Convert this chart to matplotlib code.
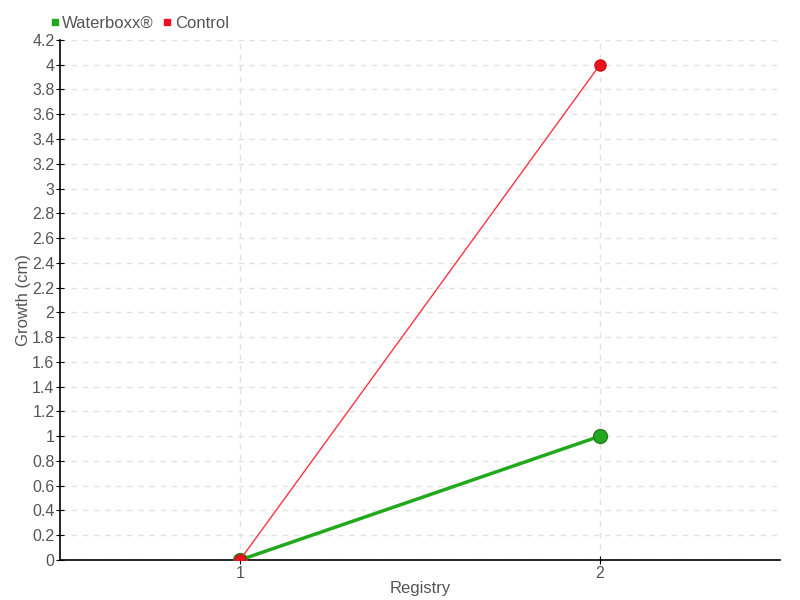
import matplotlib
matplotlib.use("Agg")
import matplotlib.pyplot as plt

REGISTRY = [1, 2]
WATERBOXX = [0, 1]
CONTROL = [0, 4]
YTICKS = [round(0.2 * i, 1) for i in range(22)]

TXT = "#555555"
plt.rcParams["font.family"] = ["Liberation Sans", "DejaVu Sans"]

fig = plt.figure(figsize=(8, 6), dpi=100)
ax = fig.add_axes([0.075, 0.0667, 0.9, 0.8667])

ax.plot(REGISTRY, WATERBOXX, color="#22a81c", lw=2.5, marker="o", ms=10,
        mfc="#22a81c", mec="#2a7a22", label="Waterboxx®", zorder=3)
ax.plot(REGISTRY, CONTROL, color="#ff3344", lw=1, marker="o", ms=8,
        mfc="#ee1122", mec="#cc1111", label="Control", zorder=4)

ax.set_xlim(0.5, 2.5)
ax.set_ylim(0, 4.2)
ax.set_xticks(REGISTRY)
ax.set_yticks(YTICKS)
ax.set_yticklabels([f"{v:g}" for v in YTICKS])
ax.grid(True, color="#e2e2e2", ls=(0, (4, 4)), lw=1)
ax.set_axisbelow(True)
for s in ("top", "right"):
    ax.spines[s].set_visible(False)
ax.spines["left"].set_linewidth(1.2)
ax.spines["bottom"].set_linewidth(1.2)
ax.tick_params(direction="inout", length=6, pad=1, labelsize=11.5, colors=TXT)
ax.tick_params(axis="both", color="black")
ax.set_xlabel("Registry", color=TXT, fontsize=12, labelpad=0)
ax.set_ylabel("Growth (cm)", color=TXT, fontsize=12, labelpad=1)

ax.legend(loc="lower left", bbox_to_anchor=(-0.028, 0.995), ncol=2, frameon=False,
          handlelength=0.4, handletextpad=0.25, columnspacing=0.6, fontsize=12,
          labelcolor=TXT, borderpad=0.2,
          handles=[plt.Line2D([], [], ls="", marker="s", ms=5, color="#22a81c"),
                   plt.Line2D([], [], ls="", marker="s", ms=5, color="#ee1122")],
          labels=["Waterboxx®", "Control"])

fig.savefig("out.png", dpi=100)
